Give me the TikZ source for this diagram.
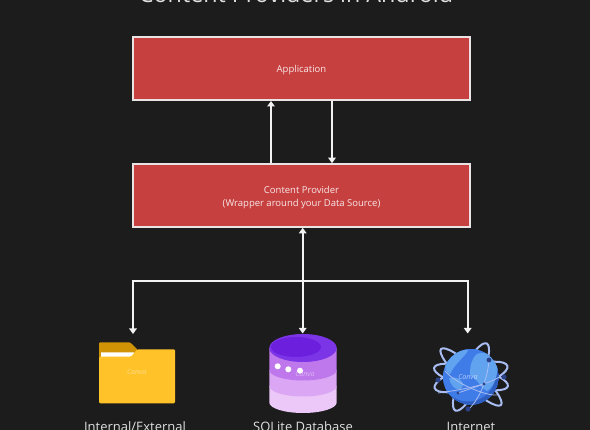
\documentclass[tikz,border=0pt]{standalone}
\usepackage{fontspec}
\setmainfont{Open Sans}
\usetikzlibrary{arrows.meta,calc}
\definecolor{bgc}{HTML}{1C1C1C}
\definecolor{boxred}{HTML}{C74040}
\definecolor{boxedge}{HTML}{EBE3E3}
\definecolor{foldY}{HTML}{FFC229}
\definecolor{foldD}{HTML}{D09306}
\definecolor{globeB}{HTML}{3F7CE8}
\definecolor{globeL}{HTML}{62A3F0}
\definecolor{globeD}{HTML}{2E5FC0}
\definecolor{orbit}{HTML}{A9BDF2}
\definecolor{orbitD}{HTML}{2C4288}
\definecolor{dbA}{HTML}{EBC8F7}
\definecolor{dbB}{HTML}{DBA6F3}
\definecolor{dbC}{HTML}{BE78EC}
\definecolor{dbD}{HTML}{7C35E6}
\definecolor{dbE}{HTML}{6C20DE}
\tikzset{
  box/.style={draw=boxedge,line width=2pt,fill=boxred,minimum width=336.4pt,minimum height=62.6pt,inner sep=0pt},
  boxtext/.style={yshift=-1.7pt,text=white!88!boxred,align=center,inner sep=0pt,font=\fontsize{9.5}{13}\selectfont},
  link/.style={draw=white!95!black,line width=2pt},
  tipped/.style={-{Triangle[width=7.5pt,length=5.5pt]}},
  caption/.style={text=white!88!black,font=\fontsize{13}{15}\selectfont,anchor=base},
  wm/.style={font=\itshape\fontsize{7}{8}\selectfont,opacity=.45,text=white},
  orbitline/.style={draw=orbit,line width=2pt},
  orbitthin/.style={draw=orbit,line width=.8pt}
}
\begin{document}
\begin{tikzpicture}[x=1pt,y=-1pt]
\useasboundingbox (0,0) rectangle (590,430);
\clip (0,0) rectangle (590,430);
\fill[bgc] (0,0) rectangle (590,430);
% title
\node[text=white!88!black,font=\fontsize{23.3}{26}\selectfont,anchor=base] (title) at (296,2.4) {Content Providers in Android};
% boxes
\node[box,label={[boxtext]center:Application}] (app) at (301.5,68.7) {};
\node[box,label={[boxtext]center:Content Provider\\(Wrapper around your Data Source)}] (prov) at (301.5,195.5) {};
% folder
\fill[foldD,rounded corners=1pt] (99,372) -- (99,342.3) -- (130,342.3) -- (138,350) -- (138,372) -- cycle;
\fill[white] (101,357) -- (101,352.5) -- (134,352.5) -- (134,354) -- (131,357) -- cycle;
\fill[foldY,rounded corners=1.2pt] (99,403.3) -- (99,356.7) -- (131,356.7) -- (137.3,349.3) -- (175,349.3) -- (175,403.3) -- cycle;
\node[wm] (w1) at (136.7,372.3) {Canva};
% database
\fill[dbA] (269.3,386) -- (269.3,402.5) arc[start angle=180,end angle=360,x radius=33.7pt,y radius=10.5pt] -- (336.7,386) -- cycle;
\fill[dbB] (269.3,370) -- (269.3,386) arc[start angle=180,end angle=360,x radius=33.7pt,y radius=10.5pt] -- (336.7,370) -- cycle;
\fill[dbC] (269.3,348) -- (269.3,370) arc[start angle=180,end angle=360,x radius=33.7pt,y radius=10.5pt] -- (336.7,348) -- cycle;
\fill[dbD] (303,348) ellipse[x radius=33.7pt,y radius=14pt];
\fill[dbE] (296,347) ellipse[x radius=25pt,y radius=10pt];
\fill[white] (277.7,366.3) circle (3pt) (288.3,369.3) circle (3pt) (300,370.7) circle (3pt);
\node[wm] (w2) at (305,373.7) {Canva};
% globe: back orbits
\draw[orbitline] (471,377) ellipse[x radius=41pt,y radius=9pt,rotate=-43];
\draw[orbitline] (471,377) ellipse[x radius=37pt,y radius=10pt,rotate=65];
\draw[orbitline] (471,377) ellipse[x radius=38pt,y radius=11pt,rotate=17];
\draw[orbitline] (471,377) ellipse[x radius=38pt,y radius=10pt,rotate=-14];
% globe body
\begin{scope}
\clip (471,377) circle (28pt);
\fill[globeD] (471,377) circle (28pt);
\fill[globeB] (468,373.5) circle (28pt);
\fill[globeL] (446,362) .. controls (452,352) and (464,349) .. (468,350) .. controls (466,356) and (456,362) .. (450,374) .. controls (446,374) and (444,368) .. (446,362) -- cycle;
\fill[globeL] (477,354) .. controls (486,350) and (494,356) .. (497,366) .. controls (499,374) and (493,388) .. (487,391) .. controls (481,388) and (477,379) .. (470,375) .. controls (470,367) and (471,359) .. (477,354) -- cycle;
\fill[globeL] (449,378) .. controls (458,376) and (464,381) .. (463,386) .. controls (460,392) and (452,390) .. (449,378) -- cycle;
\end{scope}
% globe: front orbits and satellites
\draw[orbitthin] (445,371) .. controls (455,383) and (485,396) .. (497,395);
\draw[orbitthin] (438,393) .. controls (460,390) and (490,385) .. (502,375);
\draw[orbitthin] (489,360) .. controls (488,375) and (482,395) .. (470,408);
\draw[orbitthin] (458,393) -- (484,384);
\fill[orbitD] (438,380) circle (2.6pt) (504,377) circle (2.6pt) (468,409) circle (2.6pt) (489,360) circle (2.4pt) (484,384) circle (1.7pt) (458,393) circle (1.7pt);
\node[wm,opacity=.6] (w3) at (468,377) {Canva};
% captions
\node[caption] (c1) at (135,431.3) {Internal/External};
\node[caption] (c2) at (303,431.3) {SQLite Database};
\node[caption] (c3) at (471,431.3) {Internet};
% connector anchors
\coordinate (upx) at (271,0);
\coordinate (dnx) at (332,0);
\coordinate (bus) at (302.7,281);
\coordinate (lft) at (133,281);
\coordinate (rgt) at (467.7,281);
\coordinate (folderTop) at (133,334);
\coordinate (dbTop) at (302.7,333.5);
\coordinate (netTop) at (467.7,333.5);
% connectors
\draw[link,tipped] (prov.north -| upx) -- (app.south -| upx);
\draw[link,tipped] (app.south -| dnx) -- (prov.north -| dnx);
\draw[link,tipped] (bus) -- (bus |- prov.south);
\draw[link,tipped] (bus) -- (dbTop);
\draw[link,tipped] (bus) -- (lft) -- (folderTop);
\draw[link,tipped] (bus) -- (rgt) -- (netTop);
\end{tikzpicture}
\end{document}
